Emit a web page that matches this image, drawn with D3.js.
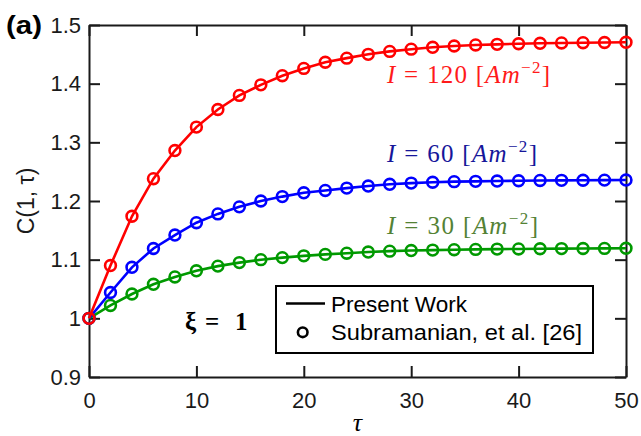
<!DOCTYPE html>
<html>
<head>
<meta charset="utf-8">
<script src="https://cdn.jsdelivr.net/npm/d3@7/dist/d3.min.js"></script>
<style>
  html, body { margin: 0; padding: 0; background: #fff; }
  svg { display: block; }
  .tick text { font-family: "Liberation Sans", Arial, sans-serif; font-size: 22px; fill: #1a1a1a; }
</style>
</head>
<body>
<svg id="chart" width="641" height="436"></svg>
<script>
// Dimensionless time
const tau = [0, 2, 4, 6, 8, 10, 12, 14, 16, 18, 20, 22, 24, 26, 28, 30, 32, 34, 36, 38, 40, 42, 44, 46, 48, 50];

// Concentration at xi = 1 for three current densities
const c120 = [1.000, 1.090, 1.174, 1.238, 1.286, 1.326, 1.356, 1.380, 1.398, 1.4136, 1.426, 1.4365, 1.4435,
              1.450, 1.455, 1.4588, 1.462, 1.4642, 1.466, 1.467, 1.468, 1.4688, 1.4694, 1.4698, 1.4702, 1.4705];
const c60  = [1.000, 1.044, 1.087, 1.119, 1.142, 1.163, 1.178, 1.190, 1.200, 1.2075, 1.214, 1.218, 1.222,
              1.2255, 1.2285, 1.2305, 1.232, 1.233, 1.2335, 1.234, 1.2345, 1.235, 1.2352, 1.2354, 1.2356, 1.2358];
const c30  = [1.000, 1.022, 1.0415, 1.058, 1.0705, 1.081, 1.089, 1.095, 1.100, 1.1035, 1.1065, 1.109, 1.111,
              1.113, 1.1145, 1.1155, 1.1163, 1.117, 1.1175, 1.118, 1.1183, 1.1186, 1.1189, 1.119, 1.1192, 1.1194];

const seriesNames = ["120", "60", "30"];
const seriesColors = ["#ff0000", "#0000ff", "#009900"];
const labelColors = ["#ff1a1a", "#16169a", "#548235"];

const xTicks = [0, 10, 20, 30, 40, 50];
const yTicks = [0.9, 1.0, 1.1, 1.2, 1.3, 1.4, 1.5];
const yTickLabels = ["0.9", "1", "1.1", "1.2", "1.3", "1.4", "1.5"];

const legendLabels = ["Present Work", "Subramanian, et al. [26]"];

const svg = d3.select("#chart");
const plotL = 89, plotR = 626, plotT = 25, plotB = 377;

const x = d3.scaleLinear().domain([0, 50]).range([plotL, plotR]);
const y = d3.scaleLinear().domain([0.9, 1.5]).range([plotB, plotT]);

const axisColor = "#1a1a1a";
const tickLen = 11;

function styleAxis(g) {
  g.selectAll(".domain").attr("stroke", axisColor).attr("stroke-width", 2);
  g.selectAll(".tick line").attr("stroke", axisColor).attr("stroke-width", 2);
}

// Bottom / left axes carry labels, top / right are mirrored tick marks
svg.append("g").attr("transform", `translate(0,${plotB})`)
  .call(d3.axisBottom(x).tickValues(xTicks).tickSizeInner(-tickLen).tickSizeOuter(0).tickPadding(15))
  .call(styleAxis);
svg.append("g").attr("transform", `translate(0,${plotT})`)
  .call(d3.axisTop(x).tickValues(xTicks).tickSizeInner(-tickLen).tickSizeOuter(0).tickFormat(""))
  .call(styleAxis);
svg.append("g").attr("transform", `translate(${plotL},0)`)
  .call(d3.axisLeft(y).tickValues(yTicks).tickSizeInner(-tickLen).tickSizeOuter(0).tickPadding(8)
    .tickFormat((d, i) => yTickLabels[i]))
  .call(styleAxis);
svg.append("g").attr("transform", `translate(${plotR},0)`)
  .call(d3.axisRight(y).tickValues(yTicks).tickSizeInner(-tickLen).tickSizeOuter(0).tickFormat(""))
  .call(styleAxis);

svg.selectAll(".tick text").attr("fill", axisColor);

// Curves and reference markers (lowest current first so the red set sits on top)
const series = [c120, c60, c30];
const line = d3.line().x((d, i) => x(tau[i])).y(d => y(d));

[2, 1, 0].forEach(k => {
  const vals = series[k];
  const g = svg.append("g");
  g.append("path").datum(vals)
    .attr("d", line)
    .attr("fill", "none")
    .attr("stroke", seriesColors[k])
    .attr("stroke-width", 2.6);
  g.selectAll("circle").data(vals).join("circle")
    .attr("cx", (d, i) => x(tau[i]))
    .attr("cy", d => y(d))
    .attr("r", 5.4)
    .attr("fill", "none")
    .attr("stroke", seriesColors[k])
    .attr("stroke-width", 2.6);
});

// Current density annotations
const annot = [
  { x: 387, y: 83, w: 163 },
  { x: 387, y: 162, w: 150 },
  { x: 387, y: 234, w: 151 }
];
annot.forEach((a, k) => {
  const t = svg.append("text")
    .attr("x", a.x).attr("y", a.y)
    .attr("fill", labelColors[k])
    .attr("font-family", "'Liberation Serif', 'DejaVu Serif', serif")
    .attr("font-size", 25)
    .attr("textLength", a.w)
    .attr("lengthAdjust", "spacing");
  t.append("tspan").attr("font-style", "italic").text("I");
  t.append("tspan").text(` = ${seriesNames[k]} [`);
  t.append("tspan").attr("font-style", "italic").text("Am");
  t.append("tspan").attr("font-size", 17).attr("dy", -10).text("−2");
  t.append("tspan").attr("dy", 10).text("]");
});

// xi = 1 note
const xiNote = svg.append("text")
  .attr("y", 330)
  .attr("font-family", "'Liberation Serif', 'DejaVu Serif', serif")
  .attr("font-size", 25)
  .attr("font-weight", "bold")
  .attr("fill", "#000");
xiNote.append("tspan").attr("x", 185).text("ξ");
xiNote.append("tspan").attr("x", 205).text("=");
xiNote.append("tspan").attr("x", 235).text("1");

// Legend
const lg = svg.append("g");
lg.append("rect")
  .attr("x", 276).attr("y", 286).attr("width", 317).attr("height", 67)
  .attr("fill", "#fff").attr("stroke", "#000").attr("stroke-width", 2);
lg.append("line")
  .attr("x1", 286).attr("x2", 325).attr("y1", 303.5).attr("y2", 303.5)
  .attr("stroke", "#000").attr("stroke-width", 2.6);
lg.append("circle")
  .attr("cx", 302.7).attr("cy", 332.3).attr("r", 4.8)
  .attr("fill", "none").attr("stroke", "#000").attr("stroke-width", 2.6);
lg.selectAll("text.lab").data(legendLabels).join("text")
  .attr("class", "lab")
  .attr("x", 331)
  .attr("y", (d, i) => i === 0 ? 311.5 : 339.5)
  .attr("font-family", "'Liberation Sans', Arial, sans-serif")
  .attr("font-size", 22)
  .attr("fill", "#000")
  .attr("textLength", (d, i) => i === 0 ? 136 : 251)
  .attr("lengthAdjust", "spacingAndGlyphs")
  .text(d => d);

// Axis titles
svg.append("text")
  .attr("transform", `translate(34,${(plotT + plotB) / 2}) rotate(-90)`)
  .attr("text-anchor", "middle")
  .attr("font-family", "'Liberation Sans', Arial, sans-serif")
  .attr("font-size", 23)
  .attr("fill", axisColor)
  .text("C(1, τ)");

svg.append("text")
  .attr("x", (plotL + plotR) / 2).attr("y", 431)
  .attr("text-anchor", "middle")
  .attr("font-family", "'Liberation Serif', 'DejaVu Serif', serif")
  .attr("font-style", "italic")
  .attr("font-size", 26)
  .attr("fill", "#000")
  .text("τ");

// Panel tag
svg.append("text")
  .attr("x", 6).attr("y", 34)
  .attr("font-family", "'Liberation Sans', Arial, sans-serif")
  .attr("font-size", 25)
  .attr("font-weight", "bold")
  .attr("fill", "#000")
  .attr("textLength", 36)
  .attr("lengthAdjust", "spacingAndGlyphs")
  .text("(a)");
</script>
</body>
</html>
